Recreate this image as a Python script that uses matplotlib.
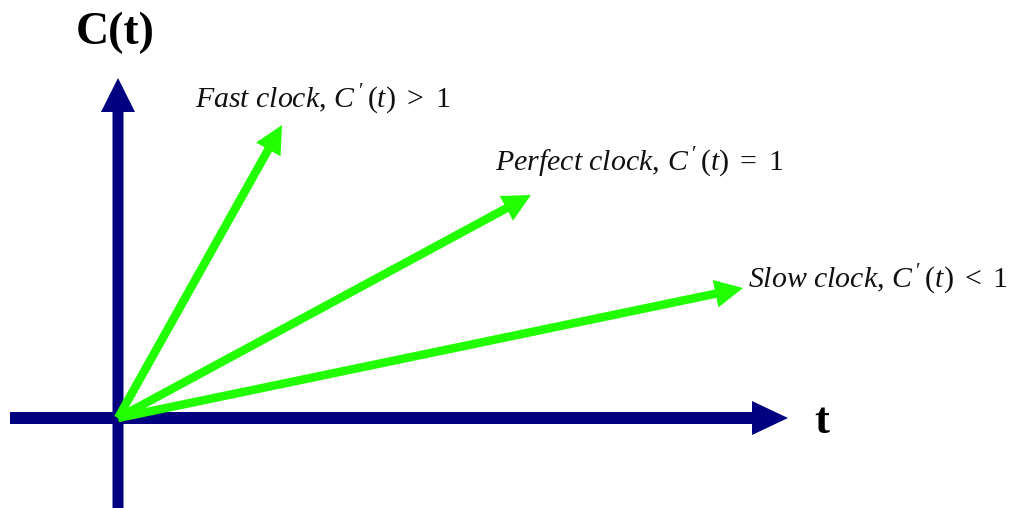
import numpy as np
import matplotlib
matplotlib.use('Agg')
import matplotlib.pyplot as plt

plt.rcParams['mathtext.fontset'] = 'custom'
plt.rcParams['mathtext.rm'] = 'Liberation Serif'
plt.rcParams['mathtext.it'] = 'Liberation Serif:italic'
plt.rcParams['mathtext.bf'] = 'Liberation Serif:bold'

# diagram in pixel units of the original picture (y grows downwards)
origin = (118, 418)
tip_x = [282, 531, 743]
tip_y = [125, 195, 288]
labels = [r"$Fast\ clock,\,C^{\,\prime}\,(t)\ >\ 1$",
          r"$Perfect\ clock,\,C^{\,\prime}\,(t)\ =\ 1$",
          r"$Slow\ clock,\,C^{\,\prime}\,(t)\ <\ 1$"]
label_x = [195, 495, 748]
label_y = [100, 163, 280]

navy = '#000080'
green = '#22ff00'

fig = plt.figure(figsize=(10.15, 5.08), dpi=100)
ax = fig.add_axes([0, 0, 1, 1])
ax.set_xlim(0, 1015)
ax.set_ylim(508, 0)
ax.axis('off')

# axes of the diagram
ax.arrow(10, origin[1], 788 - 10, 0, width=12, head_width=34, head_length=36,
         length_includes_head=True, color=navy, lw=0)
ax.arrow(origin[0], 508, 0, 78 - 508, width=11, head_width=34, head_length=34,
         length_includes_head=True, color=navy, lw=0)

for tx, ty in zip(tip_x, tip_y):
    ax.arrow(origin[0], origin[1], tx - origin[0], ty - origin[1], width=8.5,
             head_width=28, head_length=28, length_includes_head=True,
             color=green, lw=0, zorder=3)

for lx, ly, lab in zip(label_x, label_y, labels):
    ax.text(lx, ly, lab, fontsize=21.5, ha='left', va='center', color='#111111')

ax.text(115, 33, 'C(t)', fontsize=33, fontweight='bold', family='Liberation Serif',
        ha='center', va='center')
ax.text(822, 422, 't', fontsize=32, fontweight='bold', family='Liberation Serif',
        ha='center', va='center')

plt.savefig('out.png', dpi=100)
